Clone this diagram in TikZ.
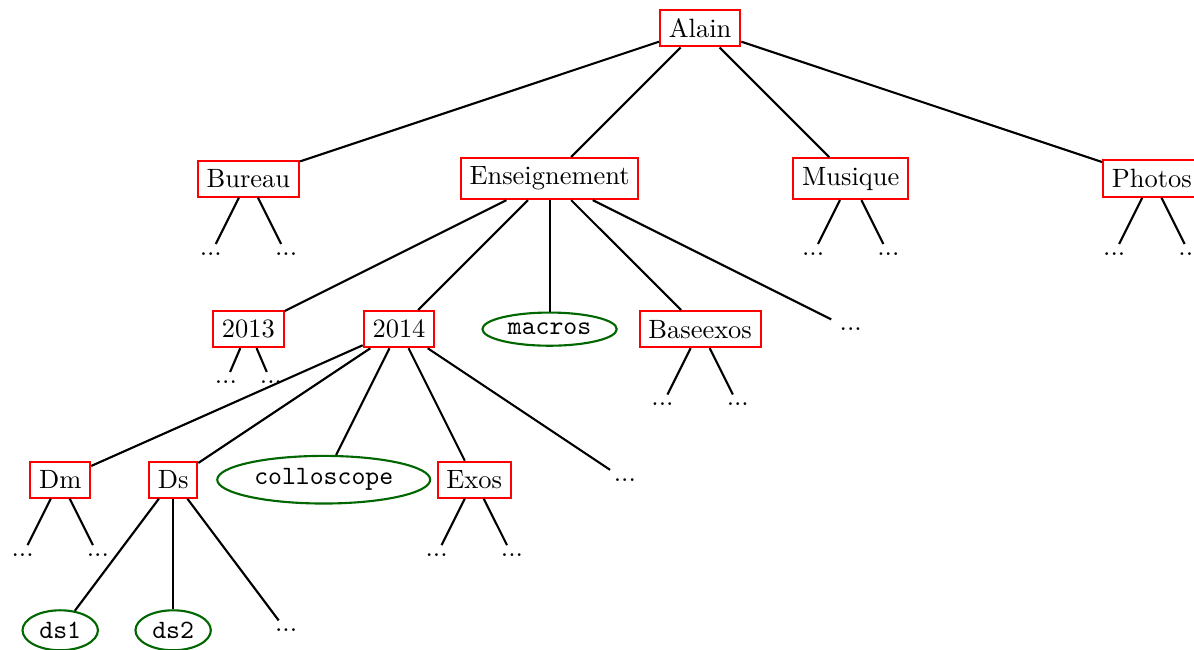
\documentclass[tikz,border=0pt]{standalone}
\usetikzlibrary{shapes.geometric}
\begin{document}
\begin{tikzpicture}[
  dir/.style={draw=red, thick, rectangle},
  file/.style={draw=green!40!black, thick, ellipse, inner sep=2.2pt, font=\ttfamily},
  more/.style={inner sep=3pt},
  link/.style={thick}
]
\useasboundingbox (-9.30,0.372) rectangle (6.56,-8.25);

% root and first level
\node[dir] (alain) at (0,0) {Alain};
\node[dir] (bureau) at (-6,-2) {Bureau};
\node[dir] (ens) at (-2,-2) {Enseignement};
\node[dir] (mus) at (2,-2) {Musique};
\node[dir] (pho) at (6,-2) {Photos};

\node[more] (bur1) at (-6.5,-3) {...};
\node[more] (bur2) at (-5.5,-3) {...};
\node[more] (mus1) at (1.5,-3) {...};
\node[more] (mus2) at (2.5,-3) {...};
\node[more] (pho1) at (5.5,-3) {...};
\node[more] (pho2) at (6.5,-3) {...};

% Enseignement
\node[dir] (y13) at (-6,-4) {2013};
\node[dir] (y14) at (-4,-4) {2014};
\node[file] (macros) at (-2,-4) {macros};
\node[dir] (base) at (0,-4) {Baseexos};
\node[more] (ens5) at (2,-4) {...};

\node[more] (y131) at (-6.3,-4.7) {...};
\node[more] (y132) at (-5.7,-4.7) {...};
\node[more] (base1) at (-0.5,-5) {...};
\node[more] (base2) at (0.5,-5) {...};

% 2014
\node[dir] (dm) at (-8.5,-6) {Dm};
\node[dir] (ds) at (-7,-6) {Ds};
\node[file] (coll) at (-5,-6) {colloscope};
\node[dir] (exos) at (-3,-6) {Exos};
\node[more] (y145) at (-1,-6) {...};

\node[more] (dm1) at (-9,-7) {...};
\node[more] (dm2) at (-8,-7) {...};
\node[more] (exos1) at (-3.5,-7) {...};
\node[more] (exos2) at (-2.5,-7) {...};

% Ds
\node[file] (ds1) at (-8.5,-8) {ds1};
\node[file] (ds2) at (-7,-8) {ds2};
\node[more] (ds3) at (-5.5,-8) {...};

% connectors
\foreach \p/\c in {alain/bureau, alain/ens, alain/mus, alain/pho,
  bureau/bur1, bureau/bur2, mus/mus1, mus/mus2, pho/pho1, pho/pho2,
  ens/y13, ens/y14, ens/macros, ens/base, ens/ens5,
  y13/y131, y13/y132, base/base1, base/base2,
  y14/dm, y14/ds, y14/coll, y14/exos, y14/y145,
  dm/dm1, dm/dm2, exos/exos1, exos/exos2,
  ds/ds1, ds/ds2, ds/ds3}
  \draw[link] (\p) -- (\c);
\end{tikzpicture}
\end{document}
